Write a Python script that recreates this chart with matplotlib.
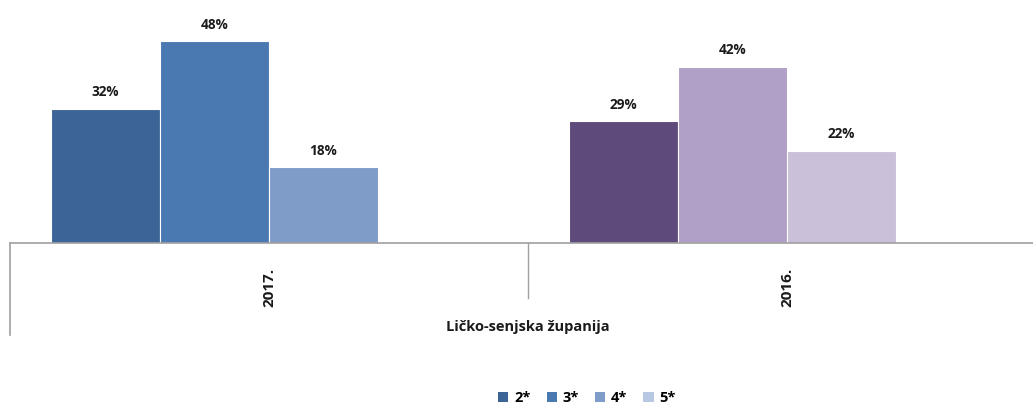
import matplotlib.pyplot as plt
import numpy as np
from matplotlib.patches import Patch

# data
years = ["2017.", "2016."]
region = "Ličko-senjska županija"
series = ["2*", "3*", "4*", "5*"]
values = {
    "2*": [32, 29],
    "3*": [48, 42],
    "4*": [18, 22],
    "5*": [0, 0],
}
legend_colors = ["#3c6496", "#4a78b0", "#7f9cc8", "#b8c8e2"]
year_colors = [
    ["#3c6496", "#4a78b0", "#7f9cc8", "#b8c8e2"],
    ["#5f4a7c", "#b09fc6", "#cbc0da", "#e0d8ea"],
]

W, H = 1033, 408
fig = plt.figure(figsize=(W / 100, H / 100), dpi=100)
plt.rcParams["font.family"] = ["Open Sans", "DejaVu Sans"]

# plot area: left border at x=10, baseline at y=243, cut off at the right
left, base = 10, 243
cat_w = 518
ax = fig.add_axes([left / W, 1 - base / H, 2 * cat_w / W, base / H])
ax.set_xlim(-0.5, 1.5)
ax.set_ylim(0, base / 4.2)

x = np.arange(len(years))
n = len(series)
width = 0.842 / n
for i, s in enumerate(series):
    pos = x - 0.421 + width * (i + 0.5)
    cols = [year_colors[j][i] for j in range(len(years))]
    bars = ax.bar(pos, values[s], width, color=cols, edgecolor="white", linewidth=0.8)
    for b, v in zip(bars, values[s]):
        if v > 0:
            ax.text(b.get_x() + b.get_width() / 2, v + 2.2, f"{v}%", ha="center", va="bottom",
                    fontsize=9.8, fontweight="bold", color="#1a1a1a")

for sp in ["top", "right", "left"]:
    ax.spines[sp].set_visible(False)
ax.spines["bottom"].set_color("#a0a0a0")
ax.spines["bottom"].set_linewidth(1.2)
ax.set_xticks([])
ax.set_yticks([])

# category axis below plot
line_col = "#a0a0a0"
fig.add_artist(plt.Line2D([left / W] * 2, [1 - base / H, 1 - 335 / H], color=line_col, lw=1.2))
fig.add_artist(plt.Line2D([(left + cat_w) / W] * 2, [1 - base / H, 1 - 298 / H], color=line_col, lw=1.0))
for j, y in enumerate(years):
    cx = left + cat_w * (j + 0.5)
    fig.text(cx / W, 1 - 287 / H, y, rotation=90, ha="center", va="center",
             fontsize=11, fontweight="bold", color="#1a1a1a")
fig.text((left + cat_w) / W, 1 - 327 / H, region, ha="center", va="center",
         fontsize=10.5, fontweight="bold", color="#1a1a1a")

handles = [Patch(facecolor=c, edgecolor="none") for c in legend_colors]
fig.legend(handles, series, loc="center", bbox_to_anchor=(587 / W, 1 - 398 / H), ncol=4,
           frameon=False, handlelength=0.7, handleheight=0.7, handletextpad=0.4,
           columnspacing=1.1, prop={"weight": "bold", "size": 10.5})

fig.savefig("out.png", dpi=100)
